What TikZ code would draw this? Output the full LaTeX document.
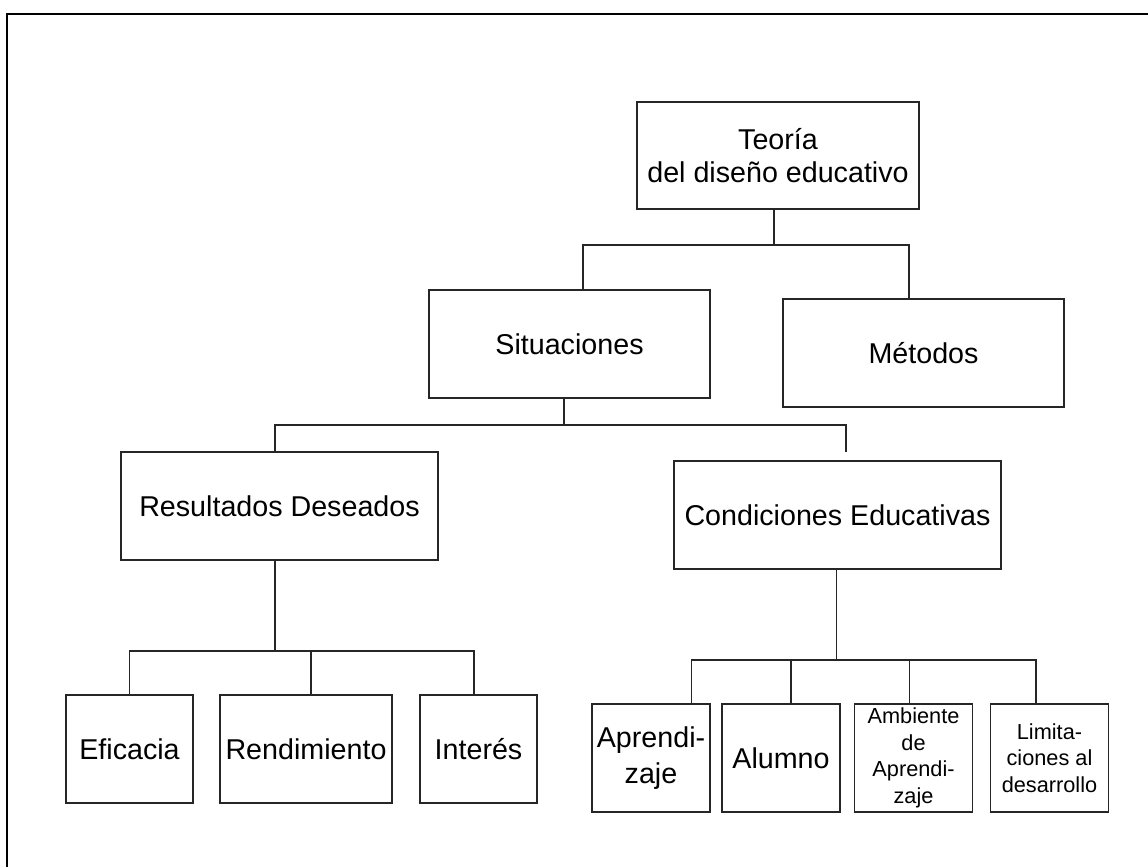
\documentclass[tikz,border=0pt]{standalone}
\usepackage{fontspec}
\setmainfont{Liberation Sans}
\usetikzlibrary{calc}
\begin{document}
\begin{tikzpicture}[x=0.75pt,y=-0.75pt,
  box/.style={draw=black!85,line width=1pt,inner sep=0pt,outer sep=0pt,align=center,
    minimum height=81pt,font=\fontsize{21.5}{25}\selectfont},
  smallbox/.style={box,minimum width=88.2pt,font=\fontsize{16.3}{20}\selectfont},
  conn/.style={draw=black!85,line width=0.8pt},
  frame/.style={draw=black,line width=1.8pt}]
\useasboundingbox (0,0) rectangle (1148,867);
\draw[frame] (1148,14) -- (7,14) -- (7,867);

\node[box,minimum width=211.5pt,minimum height=80.25pt] (teoria) at (778,155.5) {Teoría\\del diseño educativo};
\node[box,minimum width=210.75pt] (situaciones) at (569.5,344) {Situaciones};
\node[box,minimum width=210.75pt] (metodos) at (923.5,353) {Métodos};
\node[box,minimum width=237.75pt] (resultados) at (279.5,506) {Resultados Deseados};
\node[box,minimum width=245.25pt] (condiciones) at (837.5,515) {Condiciones Educativas};
\node[box,minimum width=95.25pt] (eficacia) at (129.5,749) {Eficacia};
\node[box,minimum width=129pt] (rendimiento) at (306,749) {Rendimiento};
\node[box,minimum width=87.75pt] (interes) at (478.5,749) {Interés};
\node[box,minimum width=88.5pt,font=\fontsize{21.5}{27}\selectfont] (aprendizaje) at (651,758) {Aprendi-\\zaje};
\node[box,minimum width=88.5pt] (alumno) at (781,758) {Alumno};
\node[smallbox] (ambiente) at (913.5,758) {Ambiente\\de\\Aprendi-\\zaje};
\node[smallbox] (limitaciones) at (1049.5,758) {Limita-\\ciones al\\desarrollo};

% level 1
\draw[conn] ($(teoria.south)+(-4,0)$) -- ++(0,36) coordinate (bus1);
\draw[conn] ($(situaciones.north)+(13.5,0)$) |- (bus1);
\draw[conn] ($(metodos.north)+(-14.5,0)$) |- (bus1);
% level 2
\draw[conn] ($(situaciones.south)+(-5.5,0)$) -- ++(0,27) coordinate (bus2);
\draw[conn] ($(resultados.north)+(-4.5,0)$) |- (bus2);
\coordinate (cfree) at ($(condiciones.north)+(8.5,-9)$);
\draw[conn] (cfree) |- (bus2);
% level 3 left
\draw[conn] ($(resultados.south)+(-4.5,0)$) -- ++(0,91) coordinate (bus3);
\draw[conn] (eficacia.north) |- (bus3);
\draw[conn] ($(rendimiento.north)+(5,0)$) |- (bus3);
\draw[conn] ($(interes.north)+(-4.5,0)$) |- (bus3);
% level 3 right
\draw[conn] ($(condiciones.south)+(-1,0)$) -- ++(0,91) coordinate (bus4);
\draw[conn] ($(aprendizaje.north)+(40.6,0)$) |- (bus4);
\draw[conn] ($(alumno.north)+(10,0)$) |- (bus4);
\draw[conn] ($(ambiente.north)+(-4,0)$) |- (bus4);
\draw[conn] ($(limitaciones.north)+(-13.5,0)$) |- (bus4);
\end{tikzpicture}
\end{document}
